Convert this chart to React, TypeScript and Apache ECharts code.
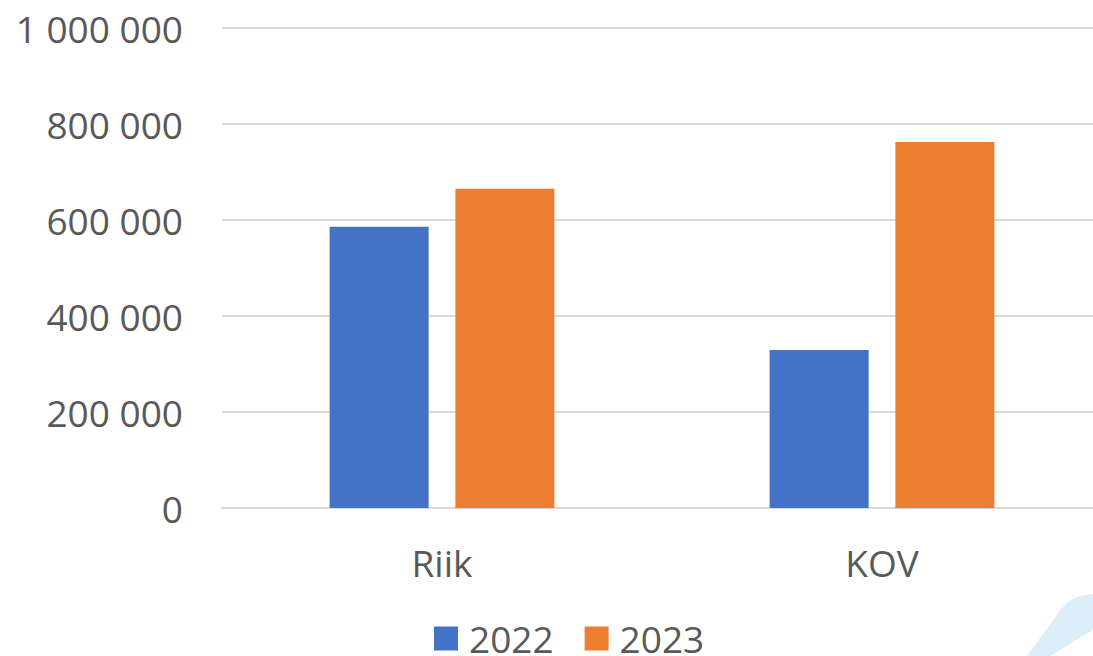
import React, { useEffect, useRef } from "react";
import * as echarts from "echarts";

const categories = ["Riik", "KOV"];
const seriesNames = ["2022", "2023"];
const values2022 = [586000, 329000];
const values2023 = [665000, 762500];
const colors = ["#4472C4", "#ED7D31"];
const yTicks = { min: 0, max: 1000000, interval: 200000 };

const FONT = "'Open Sans', 'Noto Sans', sans-serif";

function fmt(v: number): string {
  return String(Math.round(v)).replace(/\B(?=(\d{3})+(?!\d))/g, " ");
}

export default function App() {
  const ref = useRef<HTMLDivElement>(null);
  useEffect(() => {
    if (!ref.current) return;
    const chart = echarts.init(ref.current, null, { renderer: "svg" });
    chart.setOption({
      animation: false,
      backgroundColor: "#ffffff",
      grid: { left: 222, top: 28, width: 880, height: 480, containLabel: false },
      legend: {
        data: seriesNames,
        left: 429,
        top: 615,
        itemWidth: 24,
        itemHeight: 24,
        itemGap: 31,
        icon: "rect",
        textStyle: { fontFamily: FONT, fontSize: 37, color: "#595959", padding: [0, 0, 0, 6] },
      },
      xAxis: {
        type: "category",
        data: categories,
        axisLine: { show: true, lineStyle: { color: "#d9d9d9", width: 2 } },
        axisTick: { show: false },
        axisLabel: { fontFamily: FONT, fontSize: 37, color: "#595959", margin: 36 },
      },
      yAxis: {
        type: "value",
        min: yTicks.min,
        max: yTicks.max,
        interval: yTicks.interval,
        axisLine: { show: false },
        axisTick: { show: false },
        splitLine: { lineStyle: { color: "#d9d9d9", width: 2 } },
        axisLabel: {
          fontFamily: FONT,
          fontSize: 37,
          color: "#595959",
          margin: 39,
          formatter: (v: number) => fmt(v),
        },
      },
      series: [
        { name: seriesNames[0], type: "bar", data: values2022, itemStyle: { color: colors[0] }, barWidth: 99, barGap: "27%" },
        { name: seriesNames[1], type: "bar", data: values2023, itemStyle: { color: colors[1] }, barWidth: 99, barGap: "27%" },
      ],
      graphic: [
        {
          type: "polygon",
          silent: true,
          z: -1,
          shape: {
            points: [
              [1027, 656],
              [1062, 608],
              [1070, 600],
              [1080, 596],
              [1093, 594],
              [1093, 630],
              [1050, 656],
            ],
          },
          style: { fill: "#dbeef9" },
        },
      ],
    });
    return () => chart.dispose();
  }, []);
  return (
    <div style={{ position: "absolute", left: 0, top: 0, width: 1093, height: 656, overflow: "hidden", background: "#fff" }}>
      <div ref={ref} style={{ position: "absolute", left: 0, top: 0, width: 1102, height: 656 }} />
    </div>
  );
}
